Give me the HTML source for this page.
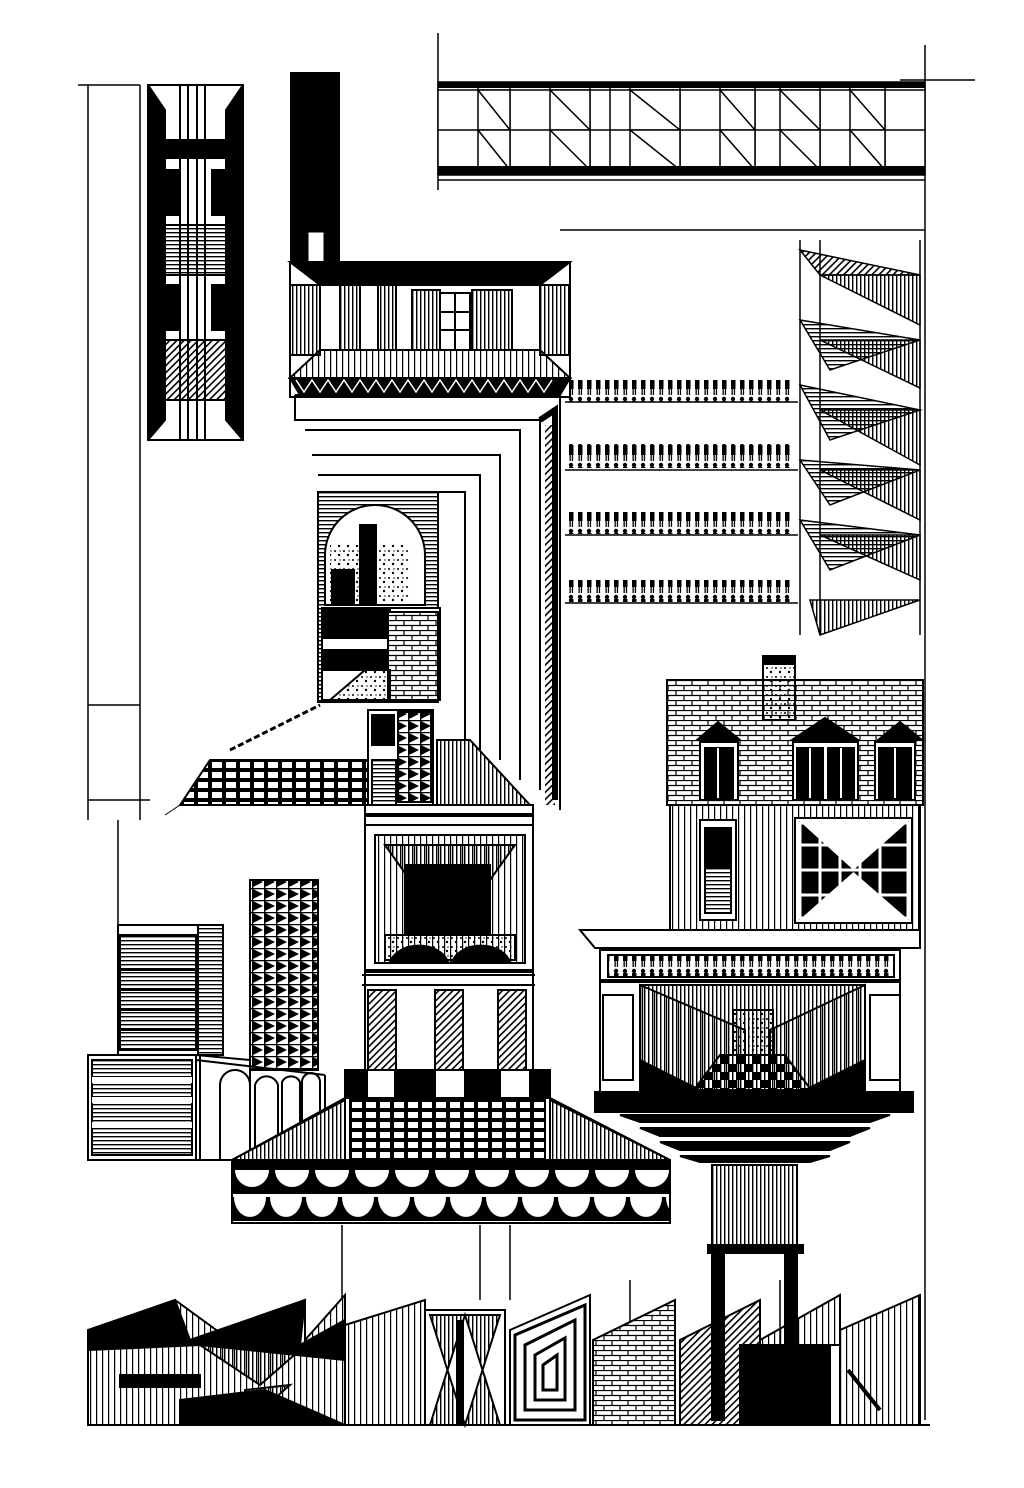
<!DOCTYPE html>
<html><head><meta charset="utf-8"><style>
html,body{margin:0;padding:0;background:#fff;width:1024px;height:1488px;overflow:hidden}
svg{display:block}
</style></head><body>
<svg width="1024" height="1488" viewBox="0 0 1024 1488" xmlns="http://www.w3.org/2000/svg">
<defs>
<pattern id="vh" width="4" height="4" patternUnits="userSpaceOnUse"><rect width="1.4" height="4" fill="#000"/></pattern>
<pattern id="vh2" width="6" height="6" patternUnits="userSpaceOnUse"><rect width="1.2" height="6" fill="#000"/></pattern>
<pattern id="hh" width="4" height="4" patternUnits="userSpaceOnUse"><rect width="4" height="1.4" fill="#000"/></pattern>
<pattern id="dh" width="5" height="5" patternUnits="userSpaceOnUse" patternTransform="rotate(45)"><rect width="1.6" height="5" fill="#000"/></pattern>
<pattern id="br" width="16" height="10" patternUnits="userSpaceOnUse"><rect width="16" height="10" fill="#fff"/><path d="M0 0.5H16M0 5.5H16M4 0V5M12 5V10" stroke="#000" stroke-width="1.2"/></pattern>
<pattern id="ck" width="16" height="16" patternUnits="userSpaceOnUse"><rect width="8" height="8" fill="#000"/><rect x="8" y="8" width="8" height="8" fill="#000"/></pattern>
<pattern id="gr" width="14" height="10" patternUnits="userSpaceOnUse"><rect width="14" height="10" fill="#000"/><rect x="2" y="2" width="10" height="6" fill="#fff"/></pattern>
<pattern id="gr2" width="12" height="12" patternUnits="userSpaceOnUse"><rect width="12" height="12" fill="#fff"/><path d="M0 0.5H12M0.5 0V12" stroke="#000" stroke-width="1.5"/><path d="M1 1L11 6L1 11Z" fill="#000"/></pattern>
<pattern id="ppl" width="9" height="22" patternUnits="userSpaceOnUse"><circle cx="4" cy="3" r="2.2" fill="#000"/><rect x="2" y="5" width="4.5" height="10" fill="#000"/><rect x="2.5" y="15" width="1.3" height="6" fill="#000"/><rect x="4.8" y="15" width="1.3" height="6" fill="#000"/></pattern>
<pattern id="sp" width="9" height="9" patternUnits="userSpaceOnUse"><circle cx="2" cy="2" r="1" fill="#000"/><circle cx="6" cy="6" r="1.2" fill="#000"/><circle cx="7" cy="2" r=".7" fill="#000"/></pattern>
<pattern id="bw1" width="40" height="40" patternUnits="userSpaceOnUse" x="232" y="1170"><rect width="40" height="40" fill="#000"/><path d="M3 0A17 17 0 0 0 37 0Z" fill="#fff"/></pattern>
<pattern id="bw2" width="36" height="40" patternUnits="userSpaceOnUse" x="232" y="1197"><rect width="36" height="40" fill="#000"/><path d="M2 0A16 20 0 0 0 34 0Z" fill="#fff"/></pattern>
</defs>
<g fill="none" stroke="#000" stroke-width="1.5">
<path d="M88 85V820M140 85V820M88 705H140M88 800H150M118 820V1055M925 45V1420M438 33V190M342 1225V1300M510 1225V1300M630 1280V1420M780 1280V1420M480 1225V1300"/>
<path d="M78 85H140M438 180H925M900 80H975M560 230H925"/>
</g>
<!-- top-left column -->
<g stroke="#000" stroke-width="2">
<rect x="148" y="85" width="95" height="355" fill="#fff"/>
<path d="M148 85L165 110V420L148 440M243 85L226 110V420L243 440" fill="#000"/>
<path d="M180 85V440M188 85V440M197 85V440M205 85V440" fill="none"/>
<rect x="155" y="140" width="80" height="18" fill="#000"/>
<rect x="155" y="225" width="80" height="50" fill="url(#hh)"/>
<rect x="155" y="340" width="80" height="60" fill="url(#dh)"/>
<rect x="160" y="170" width="18" height="45" fill="#000"/><rect x="212" y="170" width="18" height="45" fill="#000"/>
<rect x="160" y="285" width="18" height="45" fill="#000"/><rect x="212" y="285" width="18" height="45" fill="#000"/>
</g>
<rect x="290" y="72" width="50" height="190" fill="#000"/>
<rect x="296" y="90" width="38" height="150" fill="url(#ck)" opacity=".9"/>
<rect x="308" y="232" width="16" height="30" fill="#fff" stroke="#000"/>
<g stroke="#000" stroke-width="1.5" fill="#fff">
<rect x="438" y="82" width="487" height="93"/>
<path d="M438 90H925M438 130H925M438 170H925" />
<path d="M478 82V175M510 82V175M550 82V175M590 82V175M610 82V175M630 82V175M680 82V175M720 82V175M755 82V175M780 82V175M820 82V175M850 82V175M885 82V175" fill="none"/>
<path d="M478 90L510 130L510 90ZM550 90L590 130V90ZM630 90L680 130V90ZM720 90L755 130V90ZM780 90L820 130V90ZM850 90L885 130V90Z" fill="#fff"/>
<path d="M478 130L510 170V130ZM550 130L590 170V130ZM630 130L680 170V130ZM720 130L755 170V130ZM780 130L820 170V130ZM850 130L885 170V130Z"/>
</g>
<rect x="438" y="82" width="487" height="6" fill="#000"/>
<rect x="438" y="166" width="487" height="9" fill="#000"/>
<g stroke="#000" stroke-width="2">
<rect x="290" y="262" width="280" height="135" fill="#fff"/>
<path d="M290 262H570L540 285H320Z" fill="#000"/>
<rect x="290" y="285" width="30" height="70" fill="url(#vh)"/>
<rect x="540" y="285" width="30" height="70" fill="url(#vh)"/>
<rect x="340" y="285" width="20" height="65" fill="url(#vh)"/><rect x="378" y="285" width="18" height="65" fill="url(#vh)"/><rect x="412" y="290" width="28" height="60" fill="url(#vh)"/><rect x="472" y="290" width="40" height="60" fill="url(#vh)"/>
<rect x="440" y="293" width="30" height="57" fill="#fff"/>
<path d="M455 293V350M440 312H470M440 330H470" fill="none"/>
<path d="M320 350H540L570 378H290Z" fill="url(#vh2)"/>
<path d="M290 378H570L560 395H300Z" fill="#000"/>
<path d="M296 380l8 12 8-12 8 12 8-12 8 12 8-12 8 12 8-12 8 12 8-12 8 12 8-12 8 12 8-12 8 12 8-12 8 12 8-12 8 12 8-12 8 12 8-12 8 12 8-12 8 12 8-12 8 12 8-12 8 12 8-12 8 12 8-12" stroke="#fff" fill="none" stroke-width="1.5"/>
</g>
<g stroke="#000" stroke-width="1.5">
<rect x="568" y="380" width="226" height="22" fill="url(#ppl)" stroke="none"/>
<rect x="568" y="444" width="226" height="24" fill="url(#ppl)" stroke="none"/>
<rect x="568" y="512" width="226" height="22" fill="url(#ppl)" stroke="none"/>
<rect x="568" y="580" width="226" height="22" fill="url(#ppl)" stroke="none"/>
<path d="M565 402H798M565 470H798M565 535H798M565 603H798" fill="none"/>
</g>
<g stroke="#000" stroke-width="1.5">
<path d="M800 240V635M820 240V635M920 240V635" fill="none"/>
<path d="M820 275L920 275L920 325Z" fill="url(#vh)"/>
<path d="M800 250L920 275L820 275Z" fill="url(#dh)"/>
<path d="M820 340L920 340L920 388Z" fill="url(#vh)"/>
<path d="M800 320L920 340L830 370Z" fill="url(#hh)"/>
<path d="M820 410L920 410L920 465Z" fill="url(#vh)"/>
<path d="M800 385L920 410L830 440Z" fill="url(#hh)"/>
<path d="M820 470L920 470L920 520Z" fill="url(#vh)"/>
<path d="M800 460L920 470L830 505Z" fill="url(#hh)"/>
<path d="M820 535L920 535L920 580Z" fill="url(#vh)"/>
<path d="M800 520L920 535L830 570Z" fill="url(#hh)"/>
<path d="M810 600L920 600L820 635Z" fill="url(#vh)"/>
</g>
<g stroke="#000" stroke-width="2" fill="none">
<path d="M295 395H560V810M295 395V420H540V790"/>
<path d="M305 430H520V780M312 455H500V760M318 475H480V750M318 492H465V740"/>
<path d="M540 420L555 410V800" stroke-width="6"/>
</g>
<rect x="545" y="425" width="10" height="380" fill="url(#dh)"/>
<g stroke="#000" stroke-width="2">
<rect x="318" y="492" width="120" height="210" fill="url(#hh)"/>
<path d="M325 605V555A50 50 0 0 1 425 555V605Z" fill="#fff"/>
<rect x="330" y="545" width="80" height="60" fill="url(#sp)" stroke="none"/>
<rect x="360" y="525" width="16" height="80" fill="#000"/>
<rect x="332" y="570" width="22" height="35" fill="#000"/>
<rect x="322" y="608" width="118" height="92" fill="#fff"/>
<rect x="324" y="610" width="66" height="28" fill="#000"/>
<rect x="324" y="650" width="66" height="20" fill="#000"/>
<rect x="388" y="612" width="50" height="88" fill="url(#br)"/>
<path d="M330 700L365 670H390V700Z" fill="url(#sp)"/>
</g>
<path d="M180 805L210 760H368V805Z" fill="url(#gr)" stroke="#000" stroke-width="2"/>
<path d="M165 815L180 805H368" stroke="#000" fill="none"/>
<path d="M230 750L320 705" stroke="#000" stroke-width="3" stroke-dasharray="6 3"/>
<g stroke="#000" stroke-width="2">
<rect x="368" y="710" width="65" height="100" fill="#fff"/>
<rect x="398" y="712" width="33" height="90" fill="url(#gr2)"/>
<rect x="372" y="715" width="22" height="30" fill="#000"/>
<path d="M372 760H396V805H372Z" fill="url(#hh)"/>
<path d="M437 740H470L530 805H437Z" fill="url(#vh)"/>
<rect x="365" y="805" width="168" height="20" fill="#fff"/>
<path d="M365 815H533" stroke-width="4"/>
<rect x="365" y="825" width="168" height="145" fill="#fff"/>
<rect x="375" y="835" width="150" height="128" fill="url(#vh2)"/>
<path d="M385 845H515L490 880H410Z" fill="url(#vh)"/>
<rect x="405" y="865" width="85" height="70" fill="#000"/>
<path d="M385 960V935H515V960Z" fill="url(#sp)"/>
<path d="M390 962A30 22 0 0 1 448 962ZM452 962A30 22 0 0 1 510 962Z" fill="#000"/>
<rect x="365" y="972" width="168" height="100" fill="#fff"/>
<path d="M362 975H535M362 985H535" fill="none"/>
<rect x="368" y="990" width="28" height="80" fill="url(#dh)"/>
<rect x="435" y="990" width="28" height="80" fill="url(#dh)"/>
<rect x="498" y="990" width="28" height="80" fill="url(#dh)"/>
</g>
<g stroke="#000" stroke-width="2">
<rect x="118" y="925" width="80" height="130" fill="#fff"/>
<rect x="120" y="935" width="76" height="115" fill="url(#hh)"/>
<path d="M120 970H196M120 990H196M120 1010H196M120 1030H196" />
<rect x="198" y="925" width="25" height="130" fill="url(#hh)"/>
<rect x="250" y="880" width="68" height="190" fill="url(#gr2)"/>
<rect x="88" y="1055" width="108" height="105" fill="#fff"/>
<rect x="92" y="1060" width="100" height="95" fill="url(#hh)"/>
<path d="M92 1080H192M92 1100H192M92 1125H192" stroke-width="6" stroke="#fff"/>
<path d="M196 1055L250 1060V1160H196Z" fill="#fff"/>
<path d="M200 1160V1055M250 1160V1060M325 1160V1075M196 1060L325 1075" fill="none"/>
<path d="M220 1160V1085A15 15 0 0 1 250 1085V1160M255 1150V1085A12 12 0 0 1 278 1085V1150M282 1145V1082A10 10 0 0 1 300 1082V1145M302 1142V1082A9 9 0 0 1 320 1082V1142" fill="none"/>
<path d="M88 1160H330" />
</g>
<g stroke="#000" stroke-width="2">
<rect x="345" y="1070" width="205" height="28" fill="#fff"/>
<rect x="345" y="1070" width="22" height="28" fill="#000"/><rect x="395" y="1070" width="40" height="28" fill="#000"/><rect x="465" y="1070" width="35" height="28" fill="#000"/><rect x="530" y="1070" width="20" height="28" fill="#000"/>
<path d="M345 1098H550L670 1160H232Z" fill="#fff"/>
<path d="M350 1100H545L545 1160H350Z" fill="url(#gr)"/>
<path d="M345 1100L232 1160H345ZM550 1100L670 1160H550Z" fill="url(#vh)"/>
<rect x="232" y="1160" width="438" height="63" fill="#fff"/>
<rect x="232" y="1162" width="438" height="8" fill="#000"/>
<rect x="232" y="1170" width="438" height="24" fill="url(#bw1)" stroke="none"/>
<rect x="232" y="1197" width="438" height="24" fill="url(#bw2)" stroke="none"/>
<rect x="232" y="1160" width="438" height="63" fill="none"/>
</g>
<g stroke="#000" stroke-width="2">
<rect x="667" y="680" width="256" height="125" fill="url(#br)"/>
<rect x="763" y="660" width="32" height="60" fill="url(#sp)"/>
<rect x="763" y="656" width="32" height="8" fill="#000"/>
<path d="M697 740L718 722L740 740ZM792 740L825 718L858 740ZM878 740L900 722L922 740Z" fill="#000"/>
<rect x="700" y="742" width="38" height="58" fill="#fff"/>
<rect x="705" y="748" width="28" height="50" fill="#000"/>
<rect x="793" y="742" width="65" height="58" fill="#fff"/>
<rect x="797" y="748" width="26" height="50" fill="#000"/><rect x="828" y="748" width="26" height="50" fill="#000"/>
<rect x="875" y="742" width="40" height="58" fill="#fff"/>
<rect x="879" y="748" width="32" height="50" fill="#000"/>
<path d="M718 748V798M810 748V798M841 748V798M895 748V798" stroke="#fff"/>
<rect x="670" y="805" width="250" height="125" fill="url(#vh2)"/>
<rect x="700" y="820" width="36" height="100" fill="#fff"/>
<rect x="705" y="828" width="26" height="40" fill="#000"/>
<rect x="705" y="868" width="26" height="45" fill="url(#hh)"/>
<rect x="795" y="818" width="117" height="105" fill="#fff"/>
<path d="M800 823L852 870L800 870ZM908 823L855 870L908 870ZM800 918L852 872L800 872ZM908 918L855 872L908 872Z" fill="#000"/>
<path d="M800 823H908V918H800ZM820 823V918M840 823V918M860 823V918M880 823V918M800 845H908M800 870H908M800 895H908" stroke="#fff" stroke-width="3" fill="none"/>
</g>
<g stroke="#000" stroke-width="2">
<path d="M580 930H920V948H595Z" fill="#fff"/>
<rect x="600" y="950" width="300" height="30" fill="#fff"/>
<rect x="608" y="955" width="286" height="22" fill="url(#ppl)"/>
<rect x="600" y="982" width="300" height="110" fill="#fff"/>
<rect x="640" y="985" width="225" height="105" fill="url(#vh)"/>
<path d="M640 985L745 1030L745 1090L640 1090ZM865 985L770 1030V1090H865Z" fill="url(#vh2)"/>
<rect x="733" y="1010" width="40" height="45" fill="url(#sp)"/>
<path d="M720 1055H785L815 1095H690Z" fill="url(#ck)"/>
<path d="M640 1060L700 1090H640ZM865 1060L805 1090H865Z" fill="#000"/>
<rect x="603" y="995" width="30" height="85" fill="#fff"/><rect x="870" y="995" width="30" height="85" fill="#fff"/>
<rect x="595" y="1092" width="318" height="20" fill="#000"/>
<path d="M620 1115H890L870 1122H640ZM640 1128H870L850 1136H660ZM660 1142H850L830 1150H680ZM680 1156H830L810 1162H700Z" fill="#000"/>
<rect x="712" y="1165" width="85" height="80" fill="url(#vh)"/>
<rect x="708" y="1245" width="95" height="8" fill="#000"/>
<rect x="712" y="1250" width="12" height="170" fill="#000"/>
<rect x="785" y="1250" width="12" height="170" fill="#000"/>
</g>
<g stroke="#000" stroke-width="2">
<path d="M88 1425V1330L175 1300L230 1340L305 1300V1340L345 1295V1425Z" fill="url(#vh2)"/>
<path d="M90 1330L175 1300L190 1340L305 1300L300 1345L345 1320V1360L200 1345L90 1350Z" fill="#000"/>
<path d="M200 1345L300 1350L260 1385ZM245 1390L290 1385L250 1420Z" fill="url(#vh)"/>
<path d="M180 1400L265 1390L345 1425H180Z" fill="#000"/>
<rect x="120" y="1375" width="80" height="12" fill="#000"/>
<path d="M345 1325L425 1300V1425H345Z" fill="url(#vh2)"/>
<rect x="425" y="1310" width="80" height="115" fill="#fff"/>
<path d="M430 1315L465 1425L500 1315ZM430 1425L465 1315L500 1425Z" fill="url(#vh)"/>
<path d="M460 1320V1425" stroke-width="8"/>
<path d="M510 1330L590 1295V1425H510Z" fill="#fff"/>
<path d="M515 1335L585 1305V1420H515ZM525 1345L575 1320V1410H525ZM535 1355L565 1338V1400H535ZM543 1365L557 1355V1390H543Z" fill="none" stroke-width="3"/>
<path d="M593 1340L675 1300V1425H593Z" fill="url(#br)"/>
<path d="M680 1340L760 1300V1425H680Z" fill="url(#dh)"/>
<rect x="740" y="1345" width="90" height="80" fill="#000"/>
<path d="M760 1340L840 1295V1345H760ZM840 1330L920 1295V1425H840Z" fill="url(#vh2)"/>
<path d="M848 1370L880 1410" stroke-width="4"/>
<path d="M88 1425H930" stroke-width="2"/>
</g>
</svg>
</body></html>
